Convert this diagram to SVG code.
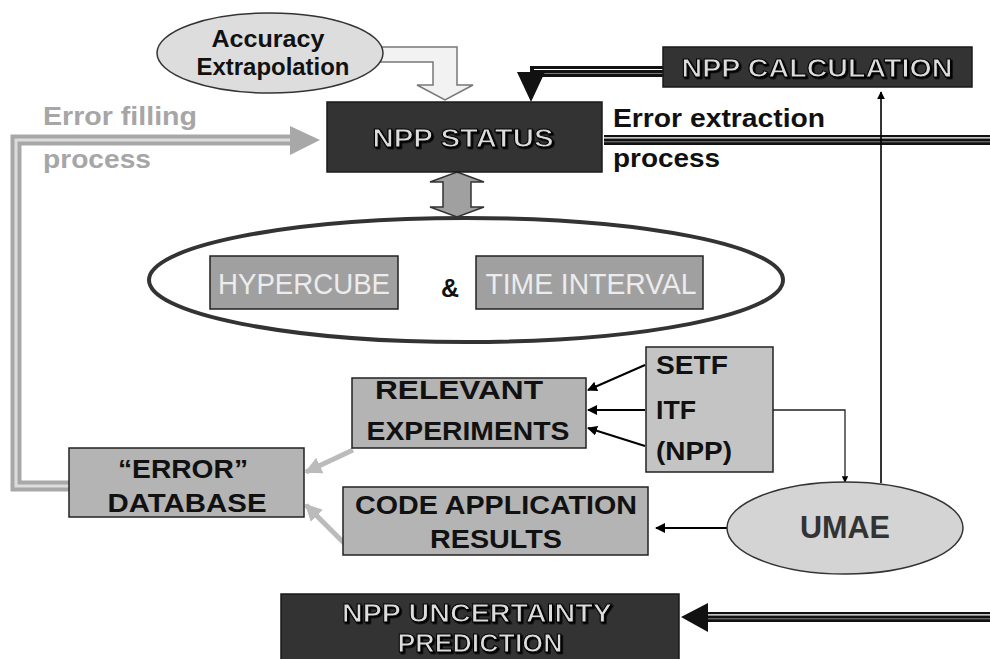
<svg xmlns="http://www.w3.org/2000/svg" width="990" height="659" viewBox="0 0 990 659">
  <defs>
    <style>
      .t { font-family: "Liberation Sans", Arial, sans-serif; font-weight: bold; }
      .dark { fill: #333333; stroke: #1a1a1a; stroke-width: 1.5; }
      .grey { fill: #b4b4b4; stroke: #222; stroke-width: 1.5; }
      .mid { fill: #a0a0a0; stroke: #222; stroke-width: 1.5; }
      .emb { fill: #dcdcdc; stroke: #000; stroke-width: 1; text-anchor: middle; filter: url(#emboss); }
      .blk { fill: #111; text-anchor: middle; }
      .thin { stroke: #000; stroke-width: 2; fill: none; }
    </style>
    <filter id="emboss" x="-5%" y="-20%" width="110%" height="140%">
      <feDropShadow dx="1.6" dy="1.6" stdDeviation="0" flood-color="#000" flood-opacity="1"/>
    </filter>
    <marker id="ah" viewBox="0 0 10 10" refX="9" refY="5" markerWidth="5" markerHeight="5" orient="auto">
      <path d="M0,0 L10,5 L0,10 z" fill="#000"/>
    </marker>
    <marker id="ahg" viewBox="0 0 10 10" refX="9" refY="5" markerWidth="3.4" markerHeight="3.4" orient="auto">
      <path d="M0,0 L10,5 L0,10 z" fill="#bbbbbb"/>
    </marker>
  </defs>

  <rect width="990" height="659" fill="#ffffff"/>

  <!-- connectors -->
  <g id="connectors">
    <!-- hollow arrow: accuracy extrapolation -> NPP status -->
    <path d="M380,47 L457,47 L457,85 L473,85 L445,100 L417,85 L433,85 L433,62 L380,62 z" fill="#f2f2f2" stroke="#777" stroke-width="1.5"/>

    <!-- NPP calculation -> NPP status (banded line) -->
    <rect x="530" y="66" width="134" height="11" fill="#111"/>
    <line x1="534" y1="69.5" x2="664" y2="69.5" stroke="#fff" stroke-width="1.2"/>
    <line x1="534" y1="73.5" x2="664" y2="73.5" stroke="#777" stroke-width="1"/>
    <path d="M517,72 L545,72 L531,102 z" fill="#111"/>

    <!-- error extraction process band -->
    <rect x="604" y="135" width="386" height="10" fill="#111"/>
    <line x1="604" y1="137.8" x2="990" y2="137.8" stroke="#fff" stroke-width="1.2"/>
    <line x1="604" y1="141.8" x2="990" y2="141.8" stroke="#888" stroke-width="1"/>

    <!-- error filling process band (grey) -->
    <path d="M69,486 L16,486 L16,140 L292,140" fill="none" stroke="#a8a8a8" stroke-width="11"/>
    <path d="M69,486 L16,486 L16,140 L292,140" fill="none" stroke="#dcdcdc" stroke-width="3"/>
    <path d="M290,126 L320,140 L290,155 z" fill="#a8a8a8"/>

    <!-- double arrow NPP status <-> hypercube & time interval -->
    <path d="M457,172 L484,182 L471,182 L471,207 L484,207 L457,217 L430,207 L443,207 L443,182 L430,182 z" fill="#a0a0a0" stroke="#333" stroke-width="1.5"/>

    <!-- SETF / ITF / (NPP) -> relevant experiments -->
    <line x1="645" y1="365" x2="588" y2="390" class="thin" marker-end="url(#ah)"/>
    <line x1="645" y1="410" x2="588" y2="410" class="thin" marker-end="url(#ah)"/>
    <line x1="645" y1="446" x2="588" y2="428" class="thin" marker-end="url(#ah)"/>

    <!-- ITF -> UMAE -->
    <path d="M773,410 L845,410 L845,482" fill="none" stroke="#222" stroke-width="1.3" marker-end="url(#ah)"/>

    <!-- UMAE -> NPP calculation -->
    <line x1="881" y1="483" x2="881" y2="92" stroke="#000" stroke-width="1.6" marker-end="url(#ah)"/>

    <!-- UMAE -> code application results -->
    <line x1="727" y1="528" x2="656" y2="528" class="thin" marker-end="url(#ah)"/>

    <!-- grey arrows into error database -->
    <line x1="353" y1="450" x2="306" y2="472" stroke="#bbbbbb" stroke-width="5" marker-end="url(#ahg)"/>
    <line x1="346" y1="545" x2="306" y2="505" stroke="#bbbbbb" stroke-width="5" marker-end="url(#ahg)"/>

    <!-- band into NPP uncertainty prediction -->
    <rect x="706" y="612" width="284" height="10" fill="#111"/>
    <line x1="706" y1="614.8" x2="990" y2="614.8" stroke="#fff" stroke-width="1.2"/>
    <line x1="706" y1="618.8" x2="990" y2="618.8" stroke="#888" stroke-width="1"/>
    <path d="M708,603 L708,632 L681,617 z" fill="#111"/>
  </g>

  <!-- free labels -->
  <g id="labels" class="t">
    <text x="613" y="127" font-size="25" fill="#111" textLength="212" lengthAdjust="spacingAndGlyphs">Error extraction</text>
    <text x="613" y="167" font-size="25" fill="#111" textLength="107" lengthAdjust="spacingAndGlyphs">process</text>
    <text x="43" y="125" font-size="25" fill="#a6a6a6" textLength="154" lengthAdjust="spacingAndGlyphs">Error filling</text>
    <text x="43" y="168" font-size="25" fill="#a6a6a6" textLength="108" lengthAdjust="spacingAndGlyphs">process</text>
  </g>

  <g id="accuracy">
    <ellipse cx="270" cy="53" rx="113" ry="40" fill="#dddddd" stroke="#333" stroke-width="1.5"/>
    <text class="t blk" x="268" y="47" font-size="23" fill="#333" textLength="113" lengthAdjust="spacingAndGlyphs">Accuracy</text>
    <text class="t blk" x="273" y="75" font-size="23" fill="#333" textLength="153" lengthAdjust="spacingAndGlyphs">Extrapolation</text>
  </g>

  <g id="npp-calculation">
    <rect x="663" y="47" width="309" height="40" class="dark"/>
    <text class="t emb" x="817" y="77" font-size="26" textLength="271" lengthAdjust="spacingAndGlyphs">NPP CALCULATION</text>
  </g>

  <g id="npp-status">
    <rect x="327" y="102" width="275" height="70" class="dark"/>
    <text class="t emb" x="463" y="147" font-size="26" textLength="181" lengthAdjust="spacingAndGlyphs">NPP STATUS</text>
  </g>

  <g id="hypercube-time">
    <ellipse cx="466" cy="280" rx="317" ry="62" fill="none" stroke="#333" stroke-width="4"/>
    <rect x="210" y="256" width="188" height="53" class="mid"/>
    <text x="304" y="294" font-family="Liberation Sans, Arial, sans-serif" font-size="30" fill="#ececec" text-anchor="middle" textLength="172" lengthAdjust="spacingAndGlyphs">HYPERCUBE</text>
    <text class="t blk" x="450" y="297" font-size="25">&amp;</text>
    <rect x="476" y="256" width="227" height="53" class="mid"/>
    <text x="591" y="294" font-family="Liberation Sans, Arial, sans-serif" font-size="30" fill="#ececec" text-anchor="middle" textLength="211" lengthAdjust="spacingAndGlyphs">TIME INTERVAL</text>
  </g>

  <g id="facilities">
    <rect x="646" y="347" width="127" height="125" fill="#c4c4c4" stroke="#222" stroke-width="1.5"/>
    <text class="t" x="656" y="374" font-size="26" fill="#111" textLength="72" lengthAdjust="spacingAndGlyphs">SETF</text>
    <text class="t" x="656" y="419" font-size="26" fill="#111" textLength="40" lengthAdjust="spacingAndGlyphs">ITF</text>
    <text class="t" x="656" y="460" font-size="26" fill="#111" textLength="76" lengthAdjust="spacingAndGlyphs">(NPP)</text>
  </g>

  <g id="relevant-experiments">
    <rect x="352" y="378" width="234" height="70" class="grey"/>
    <text class="t blk" x="459" y="399" font-size="26" textLength="168" lengthAdjust="spacingAndGlyphs">RELEVANT</text>
    <text class="t blk" x="468" y="440" font-size="26" textLength="203" lengthAdjust="spacingAndGlyphs">EXPERIMENTS</text>
  </g>

  <g id="error-database">
    <rect x="69" y="448" width="235" height="69" class="grey"/>
    <text class="t blk" x="183" y="478" font-size="26" textLength="130" lengthAdjust="spacingAndGlyphs">“ERROR”</text>
    <text class="t blk" x="187" y="512" font-size="26" textLength="159" lengthAdjust="spacingAndGlyphs">DATABASE</text>
  </g>

  <g id="code-application">
    <rect x="343" y="487" width="305" height="68" class="grey"/>
    <text class="t blk" x="496" y="514" font-size="26" textLength="282" lengthAdjust="spacingAndGlyphs">CODE APPLICATION</text>
    <text class="t blk" x="496" y="548" font-size="26" textLength="132" lengthAdjust="spacingAndGlyphs">RESULTS</text>
  </g>

  <g id="umae">
    <ellipse cx="845" cy="528" rx="118" ry="46" fill="#d4d4d4" stroke="#333" stroke-width="1.5"/>
    <text class="t" x="845" y="538" font-size="31" fill="#333" text-anchor="middle" textLength="90" lengthAdjust="spacingAndGlyphs">UMAE</text>
  </g>

  <g id="npp-uncertainty">
    <rect x="281" y="594" width="398" height="70" class="dark"/>
    <text class="t emb" x="477" y="622" font-size="26" textLength="270" lengthAdjust="spacingAndGlyphs">NPP UNCERTAINTY</text>
    <text class="t emb" x="480" y="652" font-size="25" textLength="165" lengthAdjust="spacingAndGlyphs">PREDICTION</text>
  </g>
</svg>
